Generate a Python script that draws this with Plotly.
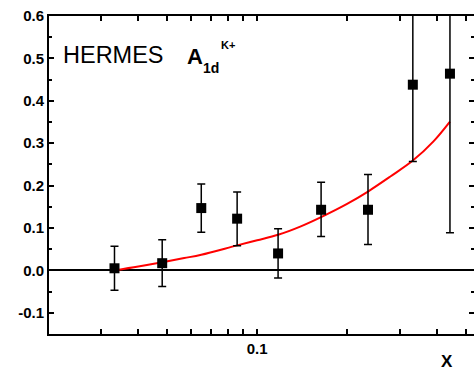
import plotly.graph_objects as go

# Data points (x, A1d^K+, error)
x_pts = [0.0333, 0.0481, 0.065, 0.0857, 0.1175, 0.1637, 0.235, 0.332, 0.442]
y_pts = [0.005, 0.017, 0.147, 0.122, 0.040, 0.143, 0.143, 0.438, 0.464]
err_plus = [0.052, 0.055, 0.057, 0.063, 0.058, 0.065, 0.083, 0.18, 0.375]
err_minus = [0.052, 0.055, 0.057, 0.064, 0.058, 0.063, 0.082, 0.181, 0.375]

# Red model curve
x_curve = [0.0333, 0.04, 0.0481, 0.057, 0.065, 0.0857, 0.1, 0.1175, 0.14, 0.165, 0.2, 0.235, 0.28, 0.332, 0.39, 0.442]
y_curve = [0.0, 0.009, 0.019, 0.029, 0.037, 0.059, 0.071, 0.084, 0.104, 0.127, 0.157, 0.186, 0.222, 0.259, 0.305, 0.351]

x_minor = [0.03, 0.04, 0.05, 0.06, 0.07, 0.08, 0.09, 0.2, 0.3, 0.4, 0.5]
x_major = [0.1]
x_major_text = ["0.1"]
y_ticks = [-0.1, 0.0, 0.1, 0.2, 0.3, 0.4, 0.5, 0.6]
y_tick_text = ["-0.1", "0.0", "0.1", "0.2", "0.3", "0.4", "0.5", "0.6"]

FONT = "Liberation Sans, Arial, sans-serif"

fig = go.Figure()
fig.add_trace(go.Scatter(
    x=x_curve, y=y_curve, mode="lines", line=dict(color="#ff0000", width=2, shape="spline"),
    showlegend=False, hoverinfo="skip"))
fig.add_trace(go.Scatter(
    x=x_pts, y=y_pts, mode="markers",
    marker=dict(symbol="square", size=10, color="black"),
    error_y=dict(type="data", symmetric=False, array=err_plus, arrayminus=err_minus,
                 color="black", thickness=1.5, width=4),
    showlegend=False))
fig.add_trace(go.Scatter(x=[0.05], y=[-1], yaxis="y2", mode="markers",
                         marker=dict(opacity=0), showlegend=False, hoverinfo="skip"))

yr = [-0.15, 0.6]
fig.update_layout(
    width=474, height=373,
    margin=dict(l=49, r=0, t=16, b=39),
    paper_bgcolor="white", plot_bgcolor="white",
    font=dict(family=FONT, color="black"),
    xaxis=dict(
        type="log", range=[-1.6968, -0.2741],
        showline=True, linecolor="black", linewidth=2, mirror="allticks",
        ticks="inside", ticklen=5, tickwidth=1.5, tickcolor="black",
        tickmode="array", tickvals=x_major, ticktext=x_major_text,
        tickfont=dict(family=FONT, size=15, weight="bold"),
        minor=dict(tickmode="array", tickvals=x_minor, ticks="inside", ticklen=3,
                   tickwidth=1.5, tickcolor="black", showgrid=False),
        showgrid=False, zeroline=False,
    ),
    yaxis=dict(
        range=yr, showline=True, linecolor="black", linewidth=2, mirror=False,
        ticks="inside", ticklen=5, tickwidth=1.5, tickcolor="black",
        tickmode="array", tickvals=y_ticks, ticktext=y_tick_text,
        tickfont=dict(family=FONT, size=15, weight="bold"),
        minor=dict(dtick=0.05, ticks="inside", ticklen=3, tickwidth=1.5,
                   tickcolor="black", showgrid=False),
        showgrid=False, zeroline=True, zerolinecolor="black", zerolinewidth=2,
    ),
    yaxis2=dict(
        range=yr, overlaying="y", side="right", showline=False,
        ticks="inside", ticklen=5, tickwidth=1.5, tickcolor="black",
        tickmode="array", tickvals=y_ticks, showticklabels=False,
        minor=dict(dtick=0.05, ticks="inside", ticklen=3, tickwidth=1.5,
                   tickcolor="black", showgrid=False),
        showgrid=False, zeroline=False,
    ),
)

ann = dict(xref="paper", yref="paper", showarrow=False, xanchor="left", yanchor="middle")
fig.add_annotation(text="HERMES", x=0.028, y=0.877, font=dict(family=FONT, size=23.5), **ann)
fig.add_annotation(text="<b>A</b>", x=0.32, y=0.874, font=dict(family=FONT, size=22), **ann)
fig.add_annotation(text="<b>1d</b>", x=0.357, y=0.836, font=dict(family=FONT, size=14), **ann)
fig.add_annotation(text="<b>K+</b>", x=0.401, y=0.909, font=dict(family=FONT, size=11), **ann)
fig.add_annotation(text="<b>X</b>", x=0.936, y=-0.085, xanchor="center", yanchor="middle",
                   xref="paper", yref="paper", showarrow=False, font=dict(family=FONT, size=17))

fig.write_html("out.html")
